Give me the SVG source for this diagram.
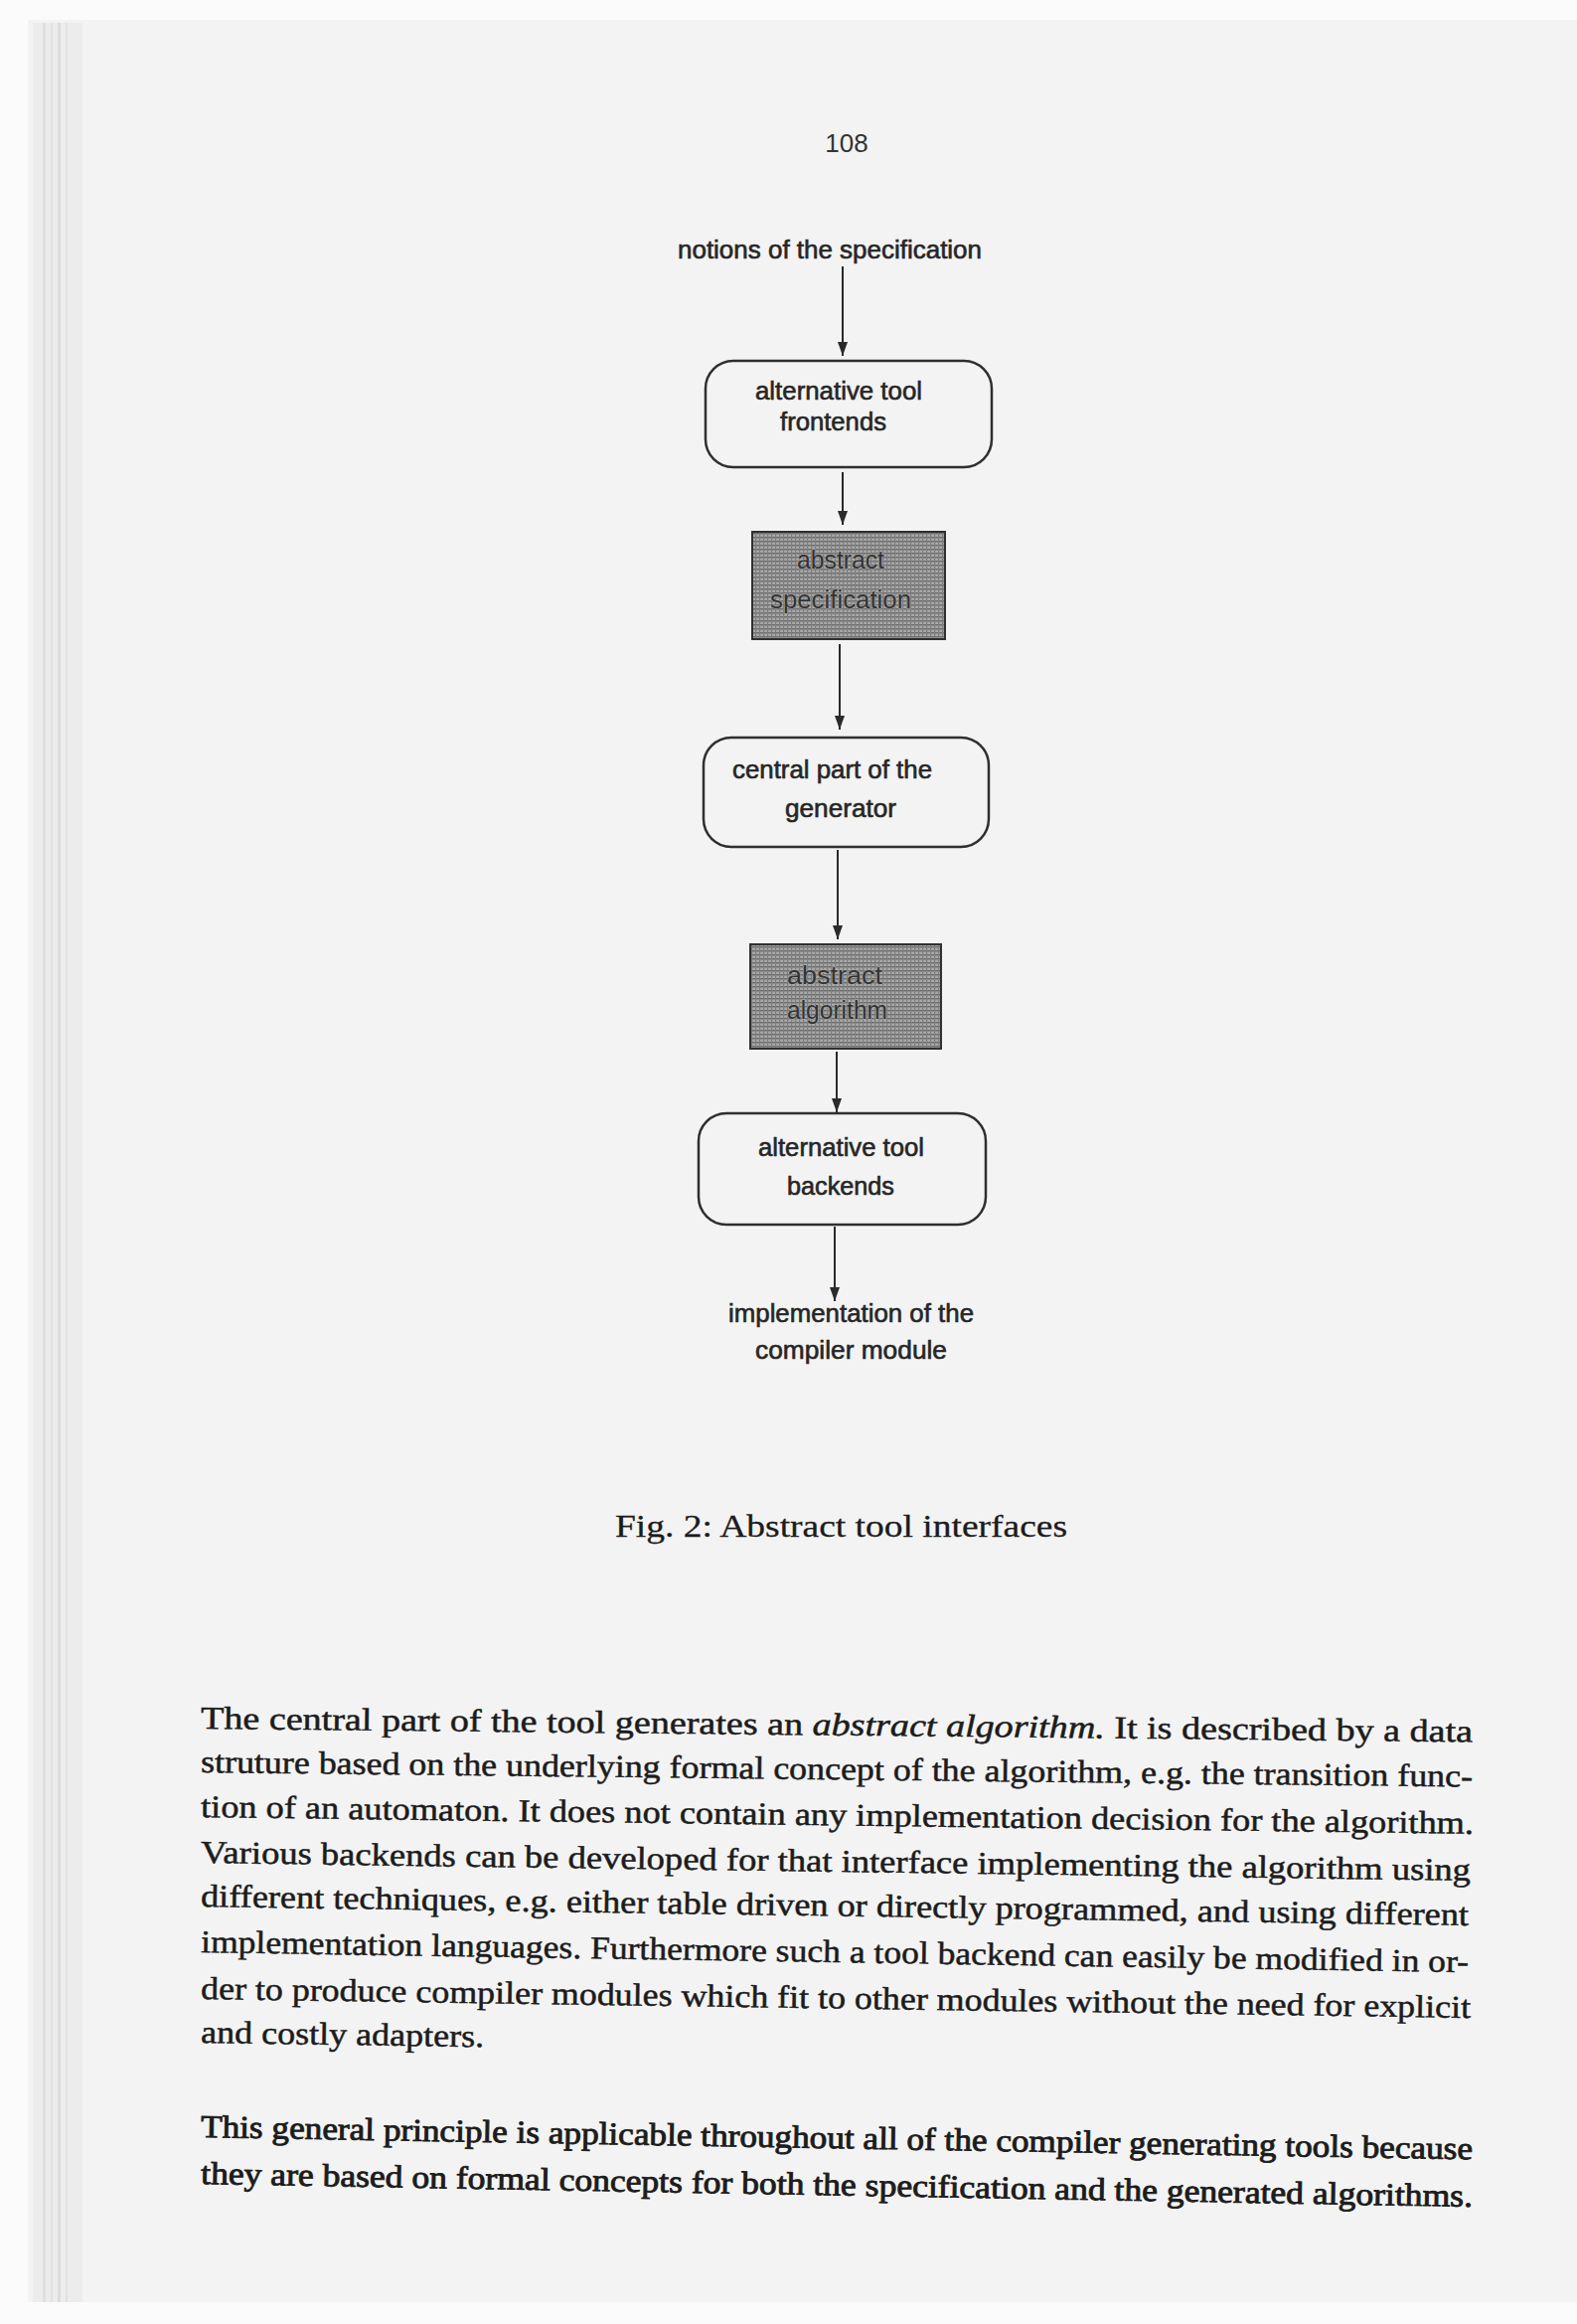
<svg xmlns="http://www.w3.org/2000/svg" width="1587" height="2338" viewBox="0 0 1587 2338">
<defs>
<style>
.sans{font-family:"Liberation Sans",Arial,Helvetica,sans-serif;fill:#262626;font-size:25px;stroke:#262626;stroke-width:0.6}
.ser{font-family:"Liberation Serif","Times New Roman",serif;fill:#1c1c1c;font-size:32px;stroke:#1c1c1c;stroke-width:0.5}
.box{fill:none;stroke:#2f2f2f;stroke-width:2.5}
.dark{fill:url(#halftone);stroke:#303030;stroke-width:2}
.dtxt{font-family:"Liberation Sans",Arial,sans-serif;font-size:25px;fill:#333;stroke:#b0b0b0;stroke-width:0.9;paint-order:stroke}
.edge{stroke:#2a2a2a;stroke-width:2;fill:none;marker-end:url(#arr)}
</style>
<pattern id="halftone" width="4" height="4" patternUnits="userSpaceOnUse">
<rect width="4" height="4" fill="#a8a8a8"/>
<rect width="4" height="1.4" fill="#6c6c6c"/>
<rect width="1.2" height="4" fill="#7e7e7e"/>
</pattern>
<marker id="arr" markerUnits="userSpaceOnUse" markerWidth="14" markerHeight="10" refX="14" refY="5" orient="auto">
<path d="M0,0 L14,5 L0,10 z" fill="#2a2a2a"/>
</marker>
</defs>

<!-- page background -->
<rect x="0" y="0" width="1587" height="2338" fill="#fbfbfb"/>
<rect x="28" y="20" width="1559" height="2296" fill="#f3f3f3"/>
<g opacity="0.6">
<rect x="33" y="23" width="50" height="2293" fill="#e8e8e8"/>
<rect x="43" y="23" width="3" height="2293" fill="#d2d2d2"/>
<rect x="51" y="23" width="2" height="2293" fill="#d6d6d6"/>
<rect x="58" y="23" width="3" height="2293" fill="#cecece"/>
<rect x="66" y="23" width="2" height="2293" fill="#d8d8d8"/>
</g>

<!-- page number -->
<text class="sans" x="852" y="153" text-anchor="middle" style="font-size:26px;fill:#333;stroke:none">108</text>

<!-- connectors -->
<g id="connectors">
<line class="edge" x1="848" y1="268" x2="848" y2="358"/>
<line class="edge" x1="848" y1="475" x2="848" y2="528"/>
<line class="edge" x1="845" y1="648" x2="845" y2="734"/>
<line class="edge" x1="843" y1="855" x2="843" y2="945"/>
<line class="edge" x1="842" y1="1058" x2="842" y2="1119"/>
<line class="edge" x1="840" y1="1234" x2="840" y2="1309"/>
</g>

<!-- nodes -->
<g id="input">
<text class="sans" x="682" y="260" textLength="306" lengthAdjust="spacingAndGlyphs">notions of the specification</text>
</g>

<g id="frontends">
<rect class="box" x="710" y="363" width="288" height="107" rx="28" ry="28"/>
<text class="sans" x="760" y="402" textLength="168" lengthAdjust="spacingAndGlyphs">alternative tool</text>
<text class="sans" x="785" y="433" textLength="107" lengthAdjust="spacingAndGlyphs">frontends</text>
</g>

<g id="abstract-specification">
<rect class="dark" x="757" y="535" width="194" height="108"/>
<text class="dtxt" x="802" y="572" textLength="88" lengthAdjust="spacingAndGlyphs">abstract</text>
<text class="dtxt" x="775" y="612" textLength="142" lengthAdjust="spacingAndGlyphs">specification</text>
</g>

<g id="central-part">
<rect class="box" x="708" y="742" width="287" height="110" rx="28" ry="28"/>
<text class="sans" x="737" y="783" textLength="201" lengthAdjust="spacingAndGlyphs">central part of the</text>
<text class="sans" x="790" y="822" textLength="112" lengthAdjust="spacingAndGlyphs">generator</text>
</g>

<g id="abstract-algorithm">
<rect class="dark" x="755" y="950" width="192" height="105"/>
<text class="dtxt" x="792" y="990" textLength="96" lengthAdjust="spacingAndGlyphs">abstract</text>
<text class="dtxt" x="792" y="1025" textLength="101" lengthAdjust="spacingAndGlyphs">algorithm</text>
</g>

<g id="backends">
<rect class="box" x="703" y="1120" width="289" height="112" rx="28" ry="28"/>
<text class="sans" x="763" y="1163" textLength="167" lengthAdjust="spacingAndGlyphs">alternative tool</text>
<text class="sans" x="792" y="1202" textLength="108" lengthAdjust="spacingAndGlyphs">backends</text>
</g>

<g id="output">
<text class="sans" x="733" y="1330" textLength="247" lengthAdjust="spacingAndGlyphs">implementation of the</text>
<text class="sans" x="760" y="1367" textLength="193" lengthAdjust="spacingAndGlyphs">compiler module</text>
</g>

<!-- caption -->
<text class="ser" x="619" y="1546" textLength="455" lengthAdjust="spacingAndGlyphs" style="stroke-width:0.3">Fig. 2: Abstract tool interfaces</text>

<!-- body text -->
<g id="body">
<text class="ser" x="202" y="1739" textLength="1280" lengthAdjust="spacingAndGlyphs" transform="rotate(0.6 202 1739)">The central part of the tool generates an <tspan font-style="italic">abstract algorithm.</tspan> It is described by a data</text>
<text class="ser" x="202" y="1783" textLength="1280" lengthAdjust="spacingAndGlyphs" transform="rotate(0.65 202 1783)">struture based on the underlying formal concept of the algorithm, e.g. the transition func-</text>
<text class="ser" x="202" y="1828" textLength="1281" lengthAdjust="spacingAndGlyphs" transform="rotate(0.75 202 1828)">tion of an automaton. It does not contain any implementation decision for the algorithm.</text>
<text class="ser" x="202" y="1874" textLength="1278" lengthAdjust="spacingAndGlyphs" transform="rotate(0.8 202 1874)">Various backends can be developed for that interface implementing the algorithm using</text>
<text class="ser" x="202" y="1918" textLength="1276" lengthAdjust="spacingAndGlyphs" transform="rotate(0.85 202 1918)">different techniques, e.g. either table driven or directly programmed, and using different</text>
<text class="ser" x="202" y="1964" textLength="1276" lengthAdjust="spacingAndGlyphs" transform="rotate(0.9 202 1964)">implementation languages. Furthermore such a tool backend can easily be modified in or-</text>
<text class="ser" x="202" y="2011" textLength="1278" lengthAdjust="spacingAndGlyphs" transform="rotate(0.85 202 2011)">der to produce compiler modules which fit to other modules without the need for explicit</text>
<text class="ser" x="202" y="2055" textLength="285" lengthAdjust="spacingAndGlyphs" transform="rotate(0.85 202 2055)">and costly adapters.</text>

<text class="ser" x="202" y="2150" textLength="1280" lengthAdjust="spacingAndGlyphs" transform="rotate(1.0 202 2150)" style="stroke-width:0.9">This general principle is applicable throughout all of the compiler generating tools because</text>
<text class="ser" x="202" y="2197" textLength="1280" lengthAdjust="spacingAndGlyphs" transform="rotate(1.03 202 2197)" style="stroke-width:0.9">they are based on formal concepts for both the specification and the generated algorithms.</text>
</g>
</svg>
